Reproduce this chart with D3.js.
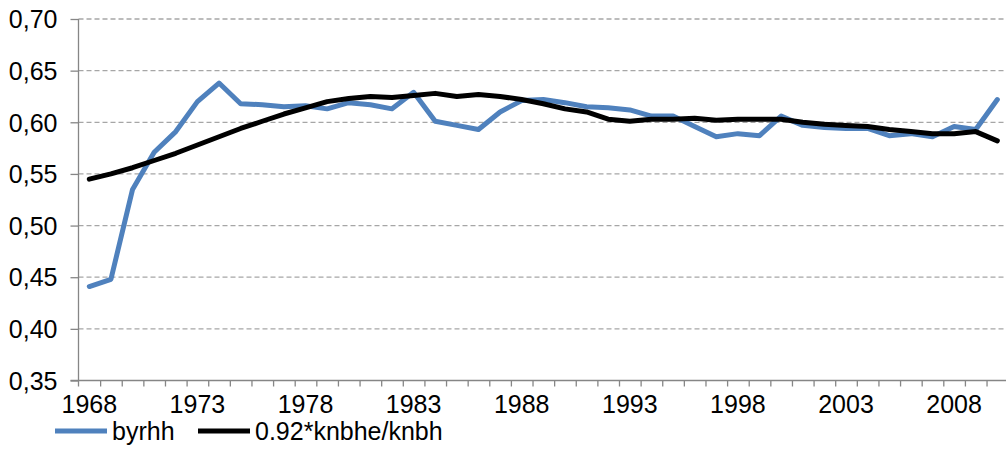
<!DOCTYPE html>
<html>
<head>
<meta charset="utf-8">
<script src="https://cdn.jsdelivr.net/npm/d3@7"></script>
<style>
  body { margin: 0; background: #fff; }
  svg { display: block; font-family: "Liberation Sans Narrow", "Liberation Sans", sans-serif; }
  .axis path, .axis line { stroke: #868686; stroke-width: 1.3; }
  .axis text { fill: #000; font-size: 25px; }
  .grid line { stroke: #a6a6a6; stroke-width: 1.3; stroke-dasharray: 5 3; }
  .legend text { font-size: 25px; }
</style>
</head>
<body>
<svg id="chart" width="1006" height="466"></svg>
<script>
const years = d3.range(1968, 2011)
const byrhh = [0.441, 0.448, 0.535, 0.571, 0.591, 0.620, 0.638, 0.618, 0.617, 0.615, 0.616,
  0.613, 0.619, 0.617, 0.613, 0.629, 0.601, 0.597, 0.593, 0.610, 0.621, 0.622, 0.619,
  0.615, 0.614, 0.612, 0.606, 0.606, 0.596, 0.586, 0.589, 0.587, 0.606, 0.597, 0.595,
  0.594, 0.594, 0.587, 0.589, 0.586, 0.596, 0.593, 0.622]
const knbhe = [0.545, 0.550, 0.556, 0.563, 0.570, 0.578, 0.586, 0.594, 0.601, 0.608, 0.614,
  0.620, 0.623, 0.625, 0.624, 0.626, 0.628, 0.625, 0.627, 0.625, 0.622, 0.618, 0.613,
  0.610, 0.603, 0.601, 0.603, 0.603, 0.604, 0.602, 0.603, 0.603, 0.603, 0.600, 0.598,
  0.597, 0.596, 0.593, 0.591, 0.589, 0.589, 0.591, 0.582]
const yTicks = [0.35, 0.40, 0.45, 0.50, 0.55, 0.60, 0.65, 0.70]
const xLabels = [1968, 1973, 1978, 1983, 1988, 1993, 1998, 2003, 2008]
const seriesNames = ['byrhh', '0.92*knbhe/knbh']
const colors = ['#4f81bd', '#000000']

const svg = d3.select('#chart')
const left = 78.5, step = 21.62
const x = d3.scaleBand().domain(years).range([left, left + step * years.length])
const xb = d3.scaleLinear().domain([0, years.length]).range([left, left + step * years.length])
const y = d3.scaleLinear().domain([0.35, 0.70]).range([380.5, 19])

// gridlines
svg.append('g').attr('class', 'grid')
  .selectAll('line').data(yTicks.slice(1)).join('line')
  .attr('x1', left).attr('x2', 1006)
  .attr('y1', d => y(d)).attr('y2', d => y(d))

// x axis ticks at category boundaries
svg.append('g').attr('class', 'axis')
  .attr('transform', `translate(0,${y(0.35)})`)
  .call(d3.axisBottom(xb).tickValues(d3.range(1, years.length)).tickSize(6).tickSizeOuter(0).tickFormat(''))
  .call(g => g.select('.domain').attr('d', `M${left - 8},0H1006`))
  .call(g => g.append('line').attr('x1', left).attr('x2', left).attr('y1', 0).attr('y2', 6))

// x labels
svg.append('g').attr('class', 'axis')
  .attr('transform', `translate(0,${y(0.35) + 5})`)
  .call(d3.axisBottom(x).tickValues(xLabels).tickSize(0).tickPadding(10))
  .call(g => g.select('.domain').remove())

// y axis
svg.append('g').attr('class', 'axis')
  .attr('transform', `translate(${left},0)`)
  .call(d3.axisLeft(y).tickValues(yTicks).tickSize(8).tickPadding(13)
    .tickFormat(d => d3.format('.2f')(d).replace('.', ',')))
  .call(g => g.select('.domain').attr('d', `M0,${y(0.70)}V${y(0.35)}`))
  .call(g => g.selectAll('text').attr('dy', '0.35em'))

const line = d3.line()
  .x((d, i) => x(years[i]) + x.bandwidth() / 2)
  .y(d => y(d))

;[byrhh, knbhe].forEach((s, k) => {
  svg.append('path').datum(s)
    .attr('fill', 'none')
    .attr('stroke', colors[k])
    .attr('stroke-width', 5)
    .attr('stroke-linejoin', 'round')
    .attr('stroke-linecap', 'round')
    .attr('d', line)
})

// legend
const legend = svg.append('g').attr('class', 'legend').attr('transform', 'translate(0,431)')
const legX = [55, 198]
seriesNames.forEach((name, k) => {
  legend.append('line')
    .attr('x1', legX[k]).attr('x2', legX[k] + 52)
    .attr('stroke', colors[k]).attr('stroke-width', 5)
  legend.append('text')
    .attr('x', legX[k] + 57).attr('dy', '0.35em')
    .text(name)
})
</script>
</body>
</html>
